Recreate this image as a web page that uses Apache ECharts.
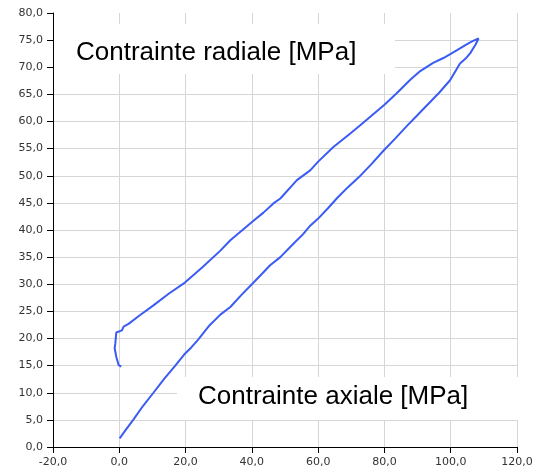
<!DOCTYPE html>
<html>
<head>
<meta charset="utf-8">
<script src="https://cdn.jsdelivr.net/npm/echarts@6/dist/echarts.min.js"></script>
<style>html,body{margin:0;padding:0;background:#fff}#c{width:541px;height:472px}</style>
</head>
<body>
<div id="c"></div>
<script>
// Axial stress (x) and radial stress (y), MPa — loading branch then unloading branch
const axial = [
  0.1, 2.0, 4.2, 7.2, 10.3, 13.6, 16.9, 19.8, 21.8, 23.8, 27.2, 30.5, 33.5, 36.8, 40.0,
  43.0, 45.5, 48.6, 52.6, 55.4, 57.6, 60.0, 63.1, 65.6, 69.0, 72.4, 76.0, 79.7, 83.3,
  86.8, 90.0, 93.0, 96.5, 99.8, 102.8, 104.5, 105.9, 107.5, 108.4,
  106.6, 104.8, 101.8, 97.8, 94.7, 90.8, 87.8, 83.7, 80.0, 76.0, 72.7, 69.7, 64.6,
  60.0, 57.6, 53.6, 48.6, 46.5, 43.5, 40.3, 37.0, 33.5, 30.5, 25.0, 19.8, 15.0, 10.3,
  6.0, 2.8, 1.3, 0.8, 0.8, -0.9, -1.2, -1.4, -0.9, -0.2, 0.6
];
const radial = [
  1.6, 3.2, 5.0, 7.6, 10.0, 12.6, 15.0, 17.2, 18.4, 19.8, 22.4, 24.4, 25.8, 28.0, 30.0,
  31.9, 33.5, 35.0, 37.5, 39.2, 40.8, 42.1, 44.1, 45.8, 47.9, 49.8, 52.1, 54.6, 56.9,
  59.2, 61.2, 63.1, 65.3, 67.6, 70.7, 71.6, 72.6, 74.2, 75.3,
  74.8, 74.2, 73.1, 71.7, 70.8, 69.3, 67.7, 65.2, 63.1, 61.0, 59.3, 57.8, 55.3,
  52.6, 51.0, 49.2, 45.8, 44.9, 43.2, 41.6, 39.9, 38.1, 36.2, 33.1, 30.3, 28.3, 26.1,
  24.2, 22.7, 22.2, 21.9, 21.5, 21.1, 19.1, 18.2, 16.6, 15.1, 14.8
];
const xTicks = { min: -20, max: 120, step: 20 };
const yTicks = { min: 0, max: 80, step: 5 };
const label1 = 'Contrainte radiale [MPa]';
const label2 = 'Contrainte axiale [MPa]';

const pts = axial.map((x, i) => [x, radial[i]]);
const fmt = v => v.toFixed(1).replace('.', ',');
const chart = echarts.init(document.getElementById('c'), null, { renderer: 'canvas' });
chart.setOption({
  animation: false,
  backgroundColor: '#fff',
  grid: { left: 53, right: 24, top: 13, bottom: 25, containLabel: false },
  xAxis: {
    type: 'value', min: xTicks.min, max: xTicks.max, interval: xTicks.step,
    axisLine: { show: true, onZero: false, lineStyle: { color: '#000', width: 1 } },
    axisTick: { show: true, length: 6, lineStyle: { color: '#000' } },
    axisLabel: { formatter: fmt, color: '#333', fontFamily: 'DejaVu Sans', fontSize: 11, margin: 10 },
    splitLine: { show: true, lineStyle: { color: '#d6d6d6', width: 1 } }
  },
  yAxis: {
    type: 'value', min: yTicks.min, max: yTicks.max, interval: yTicks.step,
    axisLine: { show: true, onZero: false, lineStyle: { color: '#000', width: 1 } },
    axisTick: { show: true, length: 6, lineStyle: { color: '#000' } },
    axisLabel: { formatter: fmt, color: '#333', fontFamily: 'DejaVu Sans', fontSize: 11, margin: 10 },
    splitLine: { show: true, showMaxLine: false, lineStyle: { color: '#d6d6d6', width: 1 } }
  },
  series: [{
    type: 'line', data: pts, showSymbol: false, symbol: 'none', smooth: false, z: 5,
    lineStyle: { color: '#3a5cf2', width: 2 }
  }],
  graphic: [
    { type: 'rect', z: 1, shape: { x: 54, y: 24, width: 341, height: 50 }, style: { fill: '#fff' } },
    { type: 'rect', z: 1, shape: { x: 177, y: 377, width: 360, height: 43 }, style: { fill: '#fff' } },
    { type: 'text', z: 10, x: 76, y: 53, style: { text: label1, fill: '#000', font: '26px "Liberation Sans"', align: 'left', verticalAlign: 'middle' } },
    { type: 'text', z: 10, x: 198, y: 397, style: { text: label2, fill: '#000', font: '26px "Liberation Sans"', align: 'left', verticalAlign: 'middle' } }
  ]
});
</script>
</body>
</html>
